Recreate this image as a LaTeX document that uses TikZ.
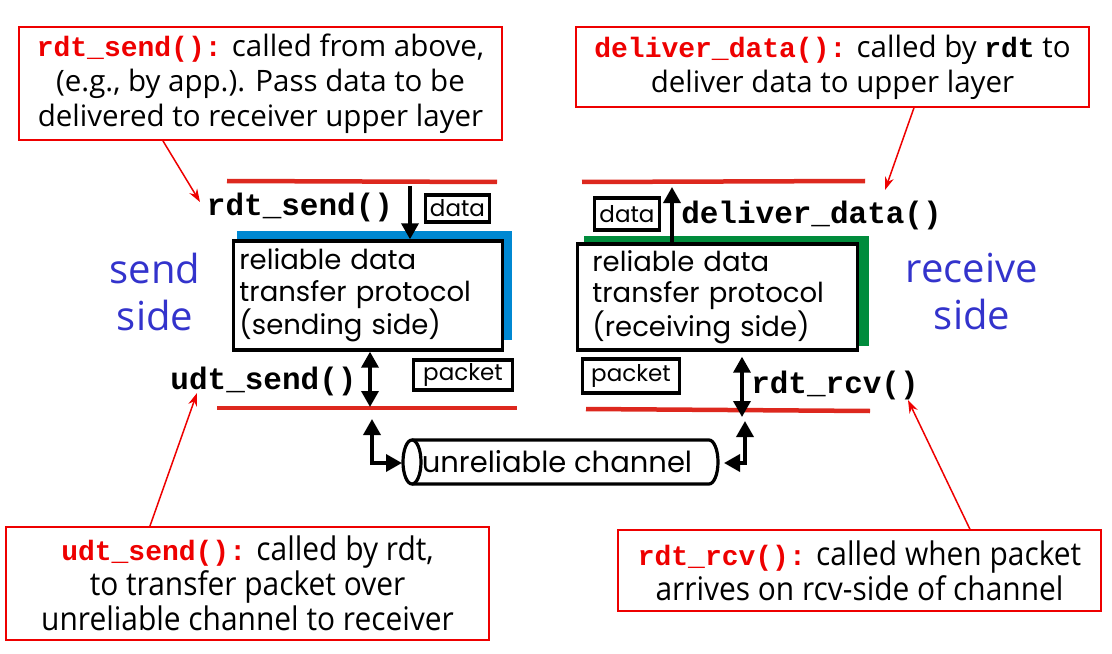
\documentclass[tikz,border=0pt]{standalone}
\usepackage{fontspec}
\setmainfont{Open Sans}
\newfontfamily\gothic{Poppins}
\newfontfamily\comiccond{Open Sans}[FakeStretch=0.92]
\setmonofont{Liberation Mono}
\usetikzlibrary{arrows.meta,calc}
\definecolor{callred}{RGB}{238,0,0}
\definecolor{layerred}{RGB}{221,40,30}
\definecolor{sideblue}{RGB}{51,51,204}
\definecolor{protoblue}{RGB}{0,136,210}
\definecolor{protogreen}{RGB}{0,140,60}
\newcommand{\fn}[1]{{\fontsize{28bp}{34bp}\ttfamily\bfseries\color{callred}#1}}
\newcommand{\mn}[1]{{\fontsize{28bp}{34bp}\ttfamily\bfseries #1}}
\begin{document}
\begin{tikzpicture}[x=1bp,y=-1bp,
  callout/.style={draw=callred, line width=2bp, align=center, inner sep=0pt,
    font=\fontsize{29.5bp}{35bp}\selectfont},
  calloutc/.style={callout, font=\comiccond\fontsize{32.5bp}{35bp}\selectfont},
  layer/.style={draw=layerred, line width=4.5bp},
  pbox/.style={draw=black, line width=3.8bp, fill=white, align=left, inner ysep=0pt,
    font=\gothic\fontsize{27.5bp}{31.5bp}\selectfont},
  smallbox/.style={draw=black, line width=3.2bp, inner sep=0pt,
    font=\gothic\fontsize{23bp}{24bp}\selectfont},
  mono/.style={inner sep=0pt, font=\fontsize{31bp}{34bp}\ttfamily\bfseries},
  sidelbl/.style={align=center, text=sideblue, inner sep=0pt,
    font=\fontsize{40bp}{47bp}\selectfont},
  blkarrow/.style={draw=black, line width=3.5bp, -{Triangle[length=16bp,width=17bp]}},
  blkdouble/.style={draw=black, line width=3.5bp,
    {Triangle[length=16bp,width=17bp]}-{Triangle[length=16bp,width=17bp]}},
  calarrow/.style={draw=callred, line width=1.5bp, -{Stealth[length=13bp,width=9bp]}}
]
\useasboundingbox (0,0) rectangle (1112,654);
\fill[white] (0,0) rectangle (1112,654);

% callouts
\node[callout, minimum width=485, minimum height=113] (cb1) at (260.5,83.5)
  {\fn{rdt\_send():} called from above,\\
   (e.g., by app.). Pass data to be\\
   delivered to receiver upper layer};
\node[callout, minimum width=515, minimum height=80] (cb2) at (832.5,67)
  {\fn{deliver\_data():} called by \mn{rdt} to\\
   deliver data to upper layer};
\node[calloutc, minimum width=485, minimum height=113] (cb3) at (247.5,583.5)
  {\fn{udt\_send():} called by rdt,\\
   to transfer packet over\\
   unreliable channel to receiver};
\node[calloutc, minimum width=485, minimum height=81] (cb4) at (859.5,570.5)
  {\fn{rdt\_rcv():} called when packet\\
   arrives on rcv-side of channel};

% layer lines
\draw[layer] (227,181) -- (497,182);
\draw[layer] (217,408) -- (517,408);
\draw[layer] (582,182) -- (865,181);
\draw[layer] (586,409) -- (870,411);

% protocol boxes
\fill[protoblue] (237,231) rectangle (512,340);
\node[pbox, text width=258, inner xsep=6bp, minimum height=109] (sp) at (368,295.5)
  {reliable data\\transfer protocol\\(sending side)};
\fill[protogreen] (584,236) rectangle (869,346);
\node[pbox, text width=251, inner xsep=15bp, minimum height=106] (rp) at (717.5,297)
  {reliable data\\transfer protocol\\(receiving side)};

% function labels
\node[mono] (rdts) at (300,207) {rdt\_send()};
\node[mono] (udts) at (263.5,381) {udt\_send()};
\node[mono] (deliv) at (811.5,215) {deliver\_data()};
\node[mono] (rrcv) at (835,385) {rdt\_rcv()};

% small boxes
\node[smallbox, minimum width=65, minimum height=27] (dataL) at (457.5,208.5) {data};
\node[smallbox, minimum width=100, minimum height=30] (pktL) at (463,375) {packet};
\node[smallbox, minimum width=66, minimum height=32] (dataR) at (627,214) {data};
\node[smallbox, minimum width=98, minimum height=34] (pktR) at (631,376) {packet};

% side labels
\node[sidelbl] (sendside) at (155,292) {send\\side};
\node[sidelbl] (recvside) at (972,292) {receive\\side};

% channel
\node[inner sep=0pt, font=\gothic\fontsize{29bp}{30bp}\selectfont] (chan) at (557,462) {unreliable channel};
\draw[black, line width=3.2bp] (412,440) -- (709,440)
  arc[start angle=-90, end angle=90, x radius=9, y radius=22] -- (412,484);
\draw[black, line width=3.2bp, fill=white] (412,462) ellipse[x radius=9, y radius=22];
\coordinate (chL) at (402,463);
\coordinate (chR) at (724,463);

% vertical arrows
\coordinate (topL) at (410,186);
\draw[blkarrow] (topL) -- (topL |- sp.north);
\coordinate (botL) at (370,407);
\draw[blkdouble] (sp.south -| botL) -- (botL);
\coordinate (topR) at (672,187);
\draw[blkarrow] (rp.north -| topR) -- (topR);
\coordinate (botR) at (742,417);
\draw[blkdouble, shorten <=5bp] (rp.south -| botR) -- (botR);

% channel connectors
\coordinate (upL) at (372,419);
\draw[blkdouble] (upL) |- (chL);
\coordinate (upR) at (745,421);
\draw[blkdouble] (upR) |- (chR);

% callout pointers
\coordinate (t1) at (200,202);
\coordinate (t2) at (885,190);
\coordinate (t3) at (197,393);
\coordinate (t4) at (908,400);
\draw[calarrow] ($(cb1.south west)+(145,0)$) -- (t1);
\draw[calarrow] ($(cb2.south west)+(339,0)$) -- (t2);
\draw[calarrow] ($(cb3.north west)+(145,0)$) -- (t3);
\draw[calarrow] ($(cb4.north west)+(353,0)$) -- (t4);
\end{tikzpicture}
\end{document}
